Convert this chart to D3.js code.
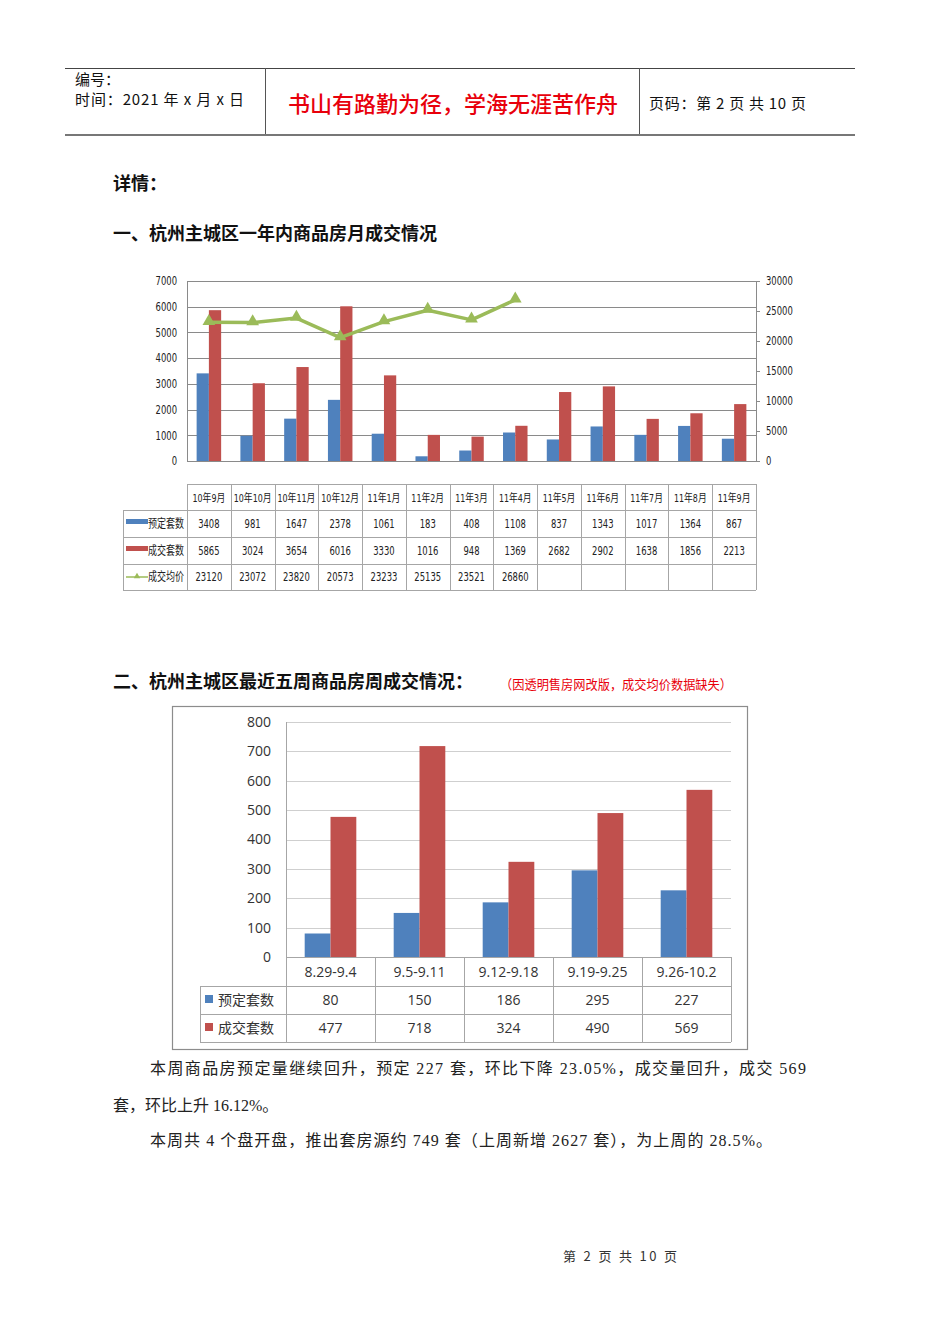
<!DOCTYPE html>
<html><head><meta charset="utf-8">
<script src="https://cdn.jsdelivr.net/npm/d3@7"></script>
<style>body{margin:0;background:#fff} svg{display:block}</style>
</head><body>
<svg id="page" width="950" height="1344"></svg>
<script>
// ---------- data ----------
const months = ["10年9月","10年10月","10年11月","10年12月","11年1月","11年2月","11年3月","11年4月","11年5月","11年6月","11年7月","11年8月","11年9月"];
const monthBooked = [3408,981,1647,2378,1061,183,408,1108,837,1343,1017,1364,867];
const monthSold = [5865,3024,3654,6016,3330,1016,948,1369,2682,2902,1638,1856,2213];
const monthPrice = [23120,23072,23820,20573,23233,25135,23521,26860];
const leftTicks = [0,1000,2000,3000,4000,5000,6000,7000];
const rightTicks = [0,5000,10000,15000,20000,25000,30000];
const seriesNames1 = ["预定套数","成交套数","成交均价"];

const weeks = ["8.29-9.4","9.5-9.11","9.12-9.18","9.19-9.25","9.26-10.2"];
const weekBooked = [80,150,186,295,227];
const weekSold = [477,718,324,490,569];
const weekTicks = [0,100,200,300,400,500,600,700,800];
const seriesNames2 = ["预定套数","成交套数"];

const BLUE = "#4F81BD", RED = "#C0504D", GREEN = "#9BBB59";
const CJK = "'Noto Sans CJK SC','Noto Sans',sans-serif";
const NARROW = "'DejaVu Sans Condensed','Noto Sans CJK SC',sans-serif";

const svg = d3.select("#page");
svg.append("rect").attr("width",950).attr("height",1344).attr("fill","#fff");

function condense(sel, f, maxW){
  sel.each(function(){ let w=this.getComputedTextLength()*f; if(maxW) w=Math.min(w,maxW); if(w>0){ d3.select(this).attr("textLength", w).attr("lengthAdjust","spacingAndGlyphs"); } });
}

// ---------- header ----------
const hd = svg.append("g");
hd.append("line").attr("x1",65).attr("x2",855).attr("y1",68.5).attr("y2",68.5).attr("stroke","#444");
hd.append("line").attr("x1",65).attr("x2",855).attr("y1",135).attr("y2",135).attr("stroke","#777").attr("stroke-width",2);
[265.5,639.5].forEach(x=>hd.append("line").attr("x1",x).attr("x2",x).attr("y1",68).attr("y2",134).attr("stroke","#555"));
hd.append("text").attr("x",75).attr("y",85).attr("font-size",15).attr("font-family",CJK).attr("fill","#111").text("编号：");
hd.append("text").attr("x",75).attr("y",105).attr("font-size",15).attr("font-family",CJK).attr("fill","#111").attr("textLength",169).attr("lengthAdjust","spacing").text("时间：2021 年 x 月 x 日");
hd.append("text").attr("x",453).attr("y",112).attr("text-anchor","middle").attr("font-size",22).attr("font-weight",500).attr("font-family",CJK).attr("fill","#e8000b").text("书山有路勤为径，学海无涯苦作舟");
hd.append("text").attr("x",649).attr("y",109).attr("font-size",15).attr("font-family",CJK).attr("fill","#111").attr("textLength",157).attr("lengthAdjust","spacing").text("页码：第 2 页 共 10 页");

// ---------- headings ----------
const H = (x,y,t,s=18,c="#111",w="bold")=>svg.append("text").attr("x",x).attr("y",y).attr("font-size",s).attr("font-weight",w).attr("font-family",CJK).attr("fill",c).text(t);
H(113,190,"详情：");
H(113,240,"一、杭州主城区一年内商品房月成交情况");
H(113,688,"二、杭州主城区最近五周商品房周成交情况：");
H(500,689,"（因透明售房网改版，成交均价数据缺失）",13,"#e8000b","normal").attr("textLength",232).attr("lengthAdjust","spacingAndGlyphs");

// ---------- chart 1 ----------
const c1 = svg.append("g");
const x1 = d3.scaleBand().domain(months).range([187,756]);
const yL = d3.scaleLinear().domain([0,7000]).range([461,281]);
const yR = d3.scaleLinear().domain([0,30000]).range([461,281]);
const bw1 = x1.bandwidth()*0.28;

c1.append("g").selectAll("line").data(leftTicks).join("line")
  .attr("x1",187).attr("x2",756).attr("y1",d=>Math.round(yL(d))+0.5).attr("y2",d=>Math.round(yL(d))+0.5)
  .attr("stroke","#8a8a8a").attr("stroke-width",1.2);
c1.append("line").attr("x1",187.5).attr("x2",187.5).attr("y1",281).attr("y2",461).attr("stroke","#8a8a8a");

const axL = c1.append("g").attr("transform","translate(187,0)")
  .call(d3.axisLeft(yL).tickValues(leftTicks).tickSize(0).tickPadding(10).tickFormat(d3.format("d")));
axL.select(".domain").remove();
axL.selectAll("text").attr("font-size",12).attr("font-family",NARROW).attr("fill","#222");
const axR = c1.append("g").attr("transform","translate(756,0)")
  .call(d3.axisRight(yR).tickValues(rightTicks).tickSize(4).tickPadding(6).tickFormat(d3.format("d")));
axR.select(".domain").attr("stroke","#8a8a8a");
axR.selectAll(".tick line").attr("stroke","#8a8a8a");
axR.selectAll("text").attr("font-size",12).attr("font-family",NARROW).attr("fill","#222");

c1.append("g").selectAll("rect").data(monthBooked).join("rect")
  .attr("x",(d,i)=>x1(months[i])+x1.bandwidth()/2-bw1).attr("width",bw1)
  .attr("y",d=>yL(d)).attr("height",d=>yL(0)-yL(d)).attr("fill",BLUE);
c1.append("g").selectAll("rect").data(monthSold).join("rect")
  .attr("x",(d,i)=>x1(months[i])+x1.bandwidth()/2).attr("width",bw1)
  .attr("y",d=>yL(d)).attr("height",d=>yL(0)-yL(d)).attr("fill",RED);

const cx1 = (i)=>x1(months[i])+x1.bandwidth()/2;
c1.append("path").datum(monthPrice)
  .attr("d",d3.line().x((d,i)=>cx1(i)).y(d=>yR(d)))
  .attr("fill","none").attr("stroke",GREEN).attr("stroke-width",3.5).attr("stroke-linejoin","round");
const tri = d3.symbol().type(d3.symbolTriangle).size(70);
c1.append("g").selectAll("path").data(monthPrice).join("path")
  .attr("d",tri).attr("transform",(d,i)=>`translate(${cx1(i)},${yR(d)-1})`).attr("fill",GREEN);

// table 1
const t1 = svg.append("g");
const rowsY1 = [484,510,537,564,590];
const gridC = "#a6a6a6";
t1.append("line").attr("x1",187).attr("x2",756).attr("y1",rowsY1[0]+0.5).attr("y2",rowsY1[0]+0.5).attr("stroke",gridC);
rowsY1.slice(1).forEach(y=>t1.append("line").attr("x1",123).attr("x2",756).attr("y1",y+0.5).attr("y2",y+0.5).attr("stroke",gridC));
months.forEach(m=>t1.append("line").attr("x1",Math.round(x1(m))+0.5).attr("x2",Math.round(x1(m))+0.5).attr("y1",484).attr("y2",590).attr("stroke",gridC));
t1.append("line").attr("x1",756.5).attr("x2",756.5).attr("y1",484).attr("y2",590).attr("stroke",gridC);
t1.append("line").attr("x1",123.5).attr("x2",123.5).attr("y1",510).attr("y2",590).attr("stroke",gridC);

const tcell = (x,y,t,fs=12)=>t1.append("text").attr("x",x).attr("y",y).attr("text-anchor","middle").attr("font-size",fs).attr("font-family",NARROW).attr("fill","#222").text(t);
const headTexts = months.map((m,i)=>tcell(cx1(i),502,m,11));
const rowData = [monthBooked, monthSold, monthPrice];
const cells = [];
rowData.forEach((arr,r)=>arr.forEach((v,i)=>cells.push(tcell(cx1(i),528+r*26.7,v))));
t1.append("rect").attr("x",126).attr("y",519).attr("width",22).attr("height",5).attr("fill",BLUE);
t1.append("rect").attr("x",126).attr("y",546).attr("width",22).attr("height",5).attr("fill",RED);
t1.append("line").attr("x1",126).attr("x2",148).attr("y1",577).attr("y2",577).attr("stroke",GREEN).attr("stroke-width",1.5);
t1.append("path").attr("d",d3.symbol().type(d3.symbolTriangle).size(18)).attr("transform","translate(137,576.5)").attr("fill",GREEN);
const legT = seriesNames1.map((s,r)=>t1.append("text").attr("x",148).attr("y",528+r*26.7).attr("font-size",12).attr("font-family",NARROW).attr("fill","#222").text(s));

condense(axL.selectAll("text"),0.78);
condense(axR.selectAll("text"),0.78);
headTexts.forEach(s=>condense(s,0.8,38));
cells.forEach(s=>condense(s,0.78));
legT.forEach(s=>condense(s,0.75,36));

// ---------- chart 2 ----------
const c2 = svg.append("g");
c2.append("rect").attr("x",172.5).attr("y",706.5).attr("width",575).attr("height",343).attr("fill","#fff").attr("stroke","#8c8c8c").attr("stroke-width",1.2);
const x2 = d3.scaleBand().domain(weeks).range([286,731]);
const y2 = d3.scaleLinear().domain([0,800]).range([957,722]);
const bw2 = x2.bandwidth()*0.29;

c2.append("g").selectAll("line").data(weekTicks).join("line")
  .attr("x1",286).attr("x2",731).attr("y1",d=>Math.round(y2(d))+0.5).attr("y2",d=>Math.round(y2(d))+0.5)
  .attr("stroke","#cfcfcf");
c2.append("line").attr("x1",286.5).attr("x2",286.5).attr("y1",722).attr("y2",957).attr("stroke","#a6a6a6");
const ax2 = c2.append("g").attr("transform","translate(286,0)")
  .call(d3.axisLeft(y2).tickValues(weekTicks).tickSize(0).tickPadding(15).tickFormat(d3.format("d")));
ax2.select(".domain").remove();
ax2.selectAll("text").attr("font-size",14).attr("font-family","'Open Sans','Liberation Sans',sans-serif").attr("fill","#333");

const cx2 = i=>x2(weeks[i])+x2.bandwidth()/2;
c2.append("g").selectAll("rect").data(weekBooked).join("rect")
  .attr("x",(d,i)=>cx2(i)-bw2).attr("width",bw2).attr("y",d=>y2(d)).attr("height",d=>y2(0)-y2(d)).attr("fill",BLUE);
c2.append("g").selectAll("rect").data(weekSold).join("rect")
  .attr("x",(d,i)=>cx2(i)).attr("width",bw2).attr("y",d=>y2(d)).attr("height",d=>y2(0)-y2(d)).attr("fill",RED);

// table 2
const t2 = svg.append("g");
const rowsY2 = [957,986,1014,1042];
const g2 = "#a6a6a6";
t2.append("line").attr("x1",286).attr("x2",731).attr("y1",957.5).attr("y2",957.5).attr("stroke",g2);
rowsY2.slice(1).forEach(y=>t2.append("line").attr("x1",200).attr("x2",731).attr("y1",y+0.5).attr("y2",y+0.5).attr("stroke",g2));
weeks.forEach(w=>t2.append("line").attr("x1",Math.round(x2(w))+0.5).attr("x2",Math.round(x2(w))+0.5).attr("y1",957).attr("y2",1042).attr("stroke",g2));
t2.append("line").attr("x1",731.5).attr("x2",731.5).attr("y1",957).attr("y2",1042).attr("stroke",g2);
t2.append("line").attr("x1",200.5).attr("x2",200.5).attr("y1",986).attr("y2",1042).attr("stroke",g2);
const F2 = "'Open Sans','Noto Sans CJK SC',sans-serif";
weeks.forEach((w,i)=>t2.append("text").attr("x",cx2(i)).attr("y",977).attr("text-anchor","middle").attr("font-size",14).attr("font-family",F2).attr("fill","#333").text(w));
[weekBooked,weekSold].forEach((arr,r)=>arr.forEach((v,i)=>t2.append("text").attr("x",cx2(i)).attr("y",1005+r*28).attr("text-anchor","middle").attr("font-size",14).attr("font-family",F2).attr("fill","#333").text(v)));
[BLUE,RED].forEach((c,r)=>{
  t2.append("rect").attr("x",205).attr("y",995+r*28).attr("width",8).attr("height",8).attr("fill",c);
  t2.append("text").attr("x",218).attr("y",1005+r*28).attr("font-size",14).attr("font-family",CJK).attr("fill","#333").text(seriesNames2[r]);
});

// ---------- paragraphs ----------
const P = (x,y,t,len)=>{const s=svg.append("text").attr("x",x).attr("y",y).attr("font-size",16).attr("font-family","'Liberation Serif','Noto Sans CJK SC',serif").attr("fill","#222").text(t); if(len) s.attr("textLength",len).attr("lengthAdjust","spacing"); return s;};
P(150,1074,"本周商品房预定量继续回升，预定 227 套，环比下降 23.05%，成交量回升，成交 569",656);
P(113,1111,"套，环比上升 16.12%。");
P(150,1146,"本周共 4 个盘开盘，推出套房源约 749 套（上周新增 2627 套），为上周的 28.5%。",622);

// footer
svg.append("text").attr("x",563).attr("y",1261).attr("font-size",13).attr("font-family",CJK).attr("fill","#333").attr("textLength",114).attr("lengthAdjust","spacing").text("第 2 页 共 10 页");
</script>
</body></html>
